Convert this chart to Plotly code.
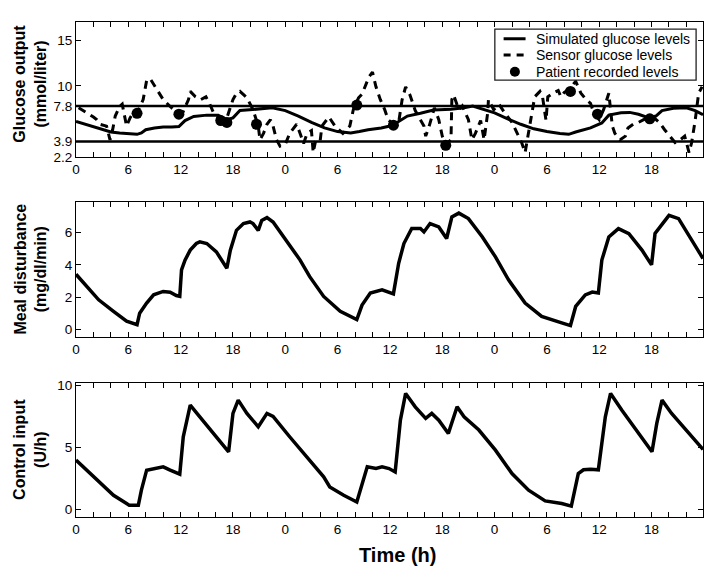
import plotly.graph_objects as go

# ---------------- data ----------------
x_tickvals = [0, 6, 12, 18, 24, 30, 36, 42, 48, 54, 60, 66]
x_ticktext = ["0", "6", "12", "18", "0", "6", "12", "18", "0", "6", "12", "18"]
glucose_ticks = [2.2, 3.9, 7.8, 10, 15]
glucose_limits = [3.9, 7.8]
legend_labels = ["Simulated glucose levels", "Sensor glucose levels", "Patient recorded levels"]

sim_t = [0, 1, 2, 3, 4, 5, 6, 7, 7.5, 8, 9, 10, 11, 11.8, 12.5, 13.5, 15, 16.3, 17.3, 18, 18.8, 20,
         21.5, 22.5, 24, 25.5, 27, 28.5, 30, 31.5, 32.5, 33.5, 35, 36, 37, 38, 39.5, 41, 43, 44.5,
         45.5, 46.5, 48, 49.5, 51, 52.5, 54, 55.5, 56.5, 57.3, 59, 60.3, 61.1, 62.5, 63.5, 64.5,
         65.7, 66.5, 67.2, 68.5, 70, 71, 71.9]
sim_v = [6.1, 5.8, 5.5, 5.2, 4.95, 4.85, 4.75, 4.7, 4.85, 5.2, 5.4, 5.5, 5.5, 5.55, 6.2, 6.65, 6.8,
         6.8, 6.3, 6.5, 7.3, 7.4, 7.45, 7.6, 7.3, 6.7, 6.0, 5.4, 5.0, 4.85, 5.0, 5.2, 5.4, 5.6, 6.1,
         6.7, 7.0, 7.35, 7.45, 7.6, 7.8, 7.5, 7.05, 6.4, 5.8, 5.3, 5.0, 4.8, 4.7, 4.95, 5.4, 5.95,
         6.8, 7.05, 7.1, 6.9, 6.5, 6.7, 7.3, 7.55, 7.6, 7.3, 6.85]

sensor_t = [0.3, 1.0, 2.0, 2.4, 2.75, 3.5, 3.9, 4.2, 4.5, 5.0, 5.3, 5.8, 6.2, 6.6, 7.0, 7.7, 8.1, 8.5,
            9.25, 10.0, 10.8, 11.7, 12.3, 12.9, 13.1, 13.7, 14.3, 14.9, 15.3, 15.8, 16.6, 17.3, 18.0,
            18.4, 18.8, 19.6, 20.3, 20.7, 20.9, 21.1, 21.5, 21.9, 22.3, 22.6, 23.0, 23.4, 24.0, 24.5,
            25.3, 25.7, 26.1, 26.5, 27.0, 27.2, 27.5, 28.0, 28.2, 29.0, 29.7, 30.6, 31.4, 31.8, 32.4,
            32.8, 33.6, 34.0, 34.4, 34.9, 35.4, 35.8, 36.4, 37.0, 37.4, 37.8, 38.3, 38.9, 39.5, 39.9,
            40.1, 40.5, 41.1, 41.6, 42.0, 42.4, 43.0, 43.1, 43.3, 43.9, 44.3, 45.0, 45.4, 45.8, 46.4,
            46.8, 47.2, 47.3, 47.9, 48.5, 49.2, 50.0, 50.6, 51.1, 51.5, 52.1, 52.6, 53.2, 53.5, 53.9,
            54.1, 54.7, 55.3, 55.6, 56.0, 56.5, 57.3, 57.9, 58.5, 59.0, 59.4, 60.0, 60.5, 61.1, 61.5,
            61.8, 62.4, 63.0, 63.3, 63.9, 64.5, 65.1, 65.7, 66.3, 66.9, 67.5, 68.1, 68.7, 69.3, 69.8,
            70.3, 70.6, 71.0, 71.4, 71.8]
sensor_v = [7.6, 7.2, 6.6, 6.3, 5.8, 5.6, 4.1, 5.2, 6.7, 7.75, 8.0, 5.6, 6.5, 7.1, 7.0, 8.5, 10.6,
            10.8, 9.6, 8.5, 7.75, 7.0, 7.2, 8.5, 9.4, 8.8, 8.5, 8.8, 8.1, 7.0, 6.3, 6.5, 8.5, 9.2, 9.4,
            8.7, 7.4, 6.3, 5.6, 4.1, 4.8, 5.8, 6.3, 5.6, 4.1, 3.4, 3.6, 4.8, 5.8, 4.8, 3.7, 4.8, 5.1,
            2.7, 4.1, 4.0, 5.6, 6.6, 5.6, 4.8, 5.6, 7.4, 8.7, 9.1, 11.0, 11.5, 9.9, 8.5, 7.4, 6.3, 5.8,
            6.0, 8.5, 9.9, 9.0, 7.3, 6.3, 5.6, 4.5, 5.6, 7.6, 6.3, 4.5, 3.6, 4.1, 8.5, 9.0, 7.4, 7.8,
            6.3, 4.1, 4.8, 6.2, 4.1, 7.0, 8.5, 7.4, 8.0, 7.0, 6.0, 4.8, 3.8, 2.7, 6.2, 8.8, 9.4, 8.8,
            6.2, 8.8, 9.2, 9.5, 8.8, 9.3, 9.6, 10.5, 9.2, 8.5, 8.1, 7.0, 6.3, 7.4, 9.2, 5.6, 4.8, 4.1,
            4.5, 5.4, 5.8, 6.0, 6.3, 6.6, 6.5, 6.0, 5.2, 4.5, 3.8, 4.1, 4.5, 2.7, 3.8, 6.2, 9.2, 9.9]

patient_t = [7.0, 11.8, 16.6, 17.3, 20.7, 32.2, 36.4, 42.4, 56.7, 59.8, 65.8]
patient_v = [7.0, 6.9, 6.2, 6.0, 5.8, 7.9, 5.7, 3.5, 9.4, 6.9, 6.4]

meal_t = [0, 1.2, 2.6, 4.3, 5.8, 7.0, 7.3, 8.1, 8.9, 10.0, 10.8, 11.5, 11.9, 12.1, 12.5, 13.1, 13.8,
          14.2, 15.0, 16.1, 17.3, 17.7, 18.4, 19.2, 19.95, 20.3, 20.9, 21.3, 21.9, 22.6, 23.8, 25.7,
          26.8, 28.4, 30.3, 32.2, 32.8, 33.75, 35.1, 36.2, 36.4, 37.0, 37.6, 38.5, 39.5, 39.9, 40.6,
          41.6, 42.5, 43.1, 43.9, 45.0, 46.6, 48.1, 49.6, 51.5, 53.4, 55.7, 56.7, 57.3, 58.4, 59.2,
          59.9, 60.3, 61.1, 62.2, 63.4, 64.9, 66.0, 66.4, 68.0, 69.1, 70.6, 71.9]
meal_v = [3.42, 2.65, 1.83, 1.11, 0.5, 0.28, 1.0, 1.63, 2.14, 2.35, 2.3, 2.1, 2.05, 3.69, 4.3, 4.92,
          5.33, 5.43, 5.33, 4.81, 3.79, 4.92, 6.15, 6.57, 6.67, 6.57, 6.15, 6.77, 6.94, 6.67, 5.74,
          4.3, 3.27, 2.04, 1.11, 0.6, 1.5, 2.25, 2.45, 2.28, 2.2, 4.1, 5.33, 6.26, 6.26, 6.05, 6.57,
          6.36, 5.64, 6.98, 7.22, 6.88, 5.74, 4.5, 3.07, 1.63, 0.8, 0.4, 0.23, 1.42, 2.14, 2.31, 2.25,
          4.3, 5.74, 6.26, 5.95, 4.92, 4.0, 5.95, 7.08, 6.88, 5.54, 4.4]

ctrl_t = [0, 1.2, 2.75, 4.3, 5.8, 6.1, 7.15, 7.5, 8.1, 8.9, 10.0, 10.8, 11.9, 12.3, 13.1, 14.2, 15.75,
          17.5, 18.0, 18.6, 19.6, 20.9, 21.9, 22.6, 24.5, 26.5, 28.4, 29.1, 30.7, 32.2, 32.8, 33.4,
          34.4, 35.1, 35.9, 36.6, 37.2, 37.8, 38.9, 40.1, 40.8, 41.6, 42.7, 43.7, 44.5, 46.2, 48.1,
          50.0, 51.9, 53.8, 55.7, 56.8, 57.6, 58.2, 59.0, 59.9, 60.7, 61.3, 62.6, 64.5, 66.05, 66.6,
          67.2, 68.3, 70.2, 71.9]
ctrl_v = [3.98, 3.17, 2.1, 1.15, 0.48, 0.35, 0.35, 1.56, 3.17, 3.3, 3.44, 3.17, 2.85, 5.86, 8.41,
          7.47, 6.13, 4.65, 7.74, 8.81, 7.74, 6.66, 7.74, 7.5, 5.86, 4.24, 2.63, 1.82, 1.15, 0.61,
          2.0, 3.44, 3.3, 3.44, 3.3, 3.03, 7.2, 9.35, 8.27, 7.34, 7.74, 7.2, 6.13, 8.27, 7.47, 6.4,
          4.78, 2.9, 1.56, 0.7, 0.48, 0.27, 2.9, 3.2, 3.25, 3.2, 7.47, 9.35, 8.0, 6.13, 4.65, 6.94,
          8.81, 7.74, 6.26, 4.84]

# ---------------- figure ----------------
FONT = "Liberation Sans, Arial, Helvetica, sans-serif"
SENSOR_DASH = "8px,6px"
fig = go.Figure()

fig.add_trace(go.Scatter(x=sim_t, y=sim_v, mode="lines", name=legend_labels[0],
                         line=dict(color="black", width=3), xaxis="x", yaxis="y"))
fig.add_trace(go.Scatter(x=sensor_t, y=sensor_v, mode="lines", name=legend_labels[1],
                         line=dict(color="black", width=3, dash=SENSOR_DASH), xaxis="x", yaxis="y"))
fig.add_trace(go.Scatter(x=patient_t, y=patient_v, mode="markers", name=legend_labels[2],
                         marker=dict(color="black", size=11), xaxis="x", yaxis="y"))
fig.add_trace(go.Scatter(x=meal_t, y=meal_v, mode="lines", showlegend=False,
                         line=dict(color="black", width=3.5), xaxis="x2", yaxis="y2"))
fig.add_trace(go.Scatter(x=ctrl_t, y=ctrl_v, mode="lines", showlegend=False,
                         line=dict(color="black", width=3.5), xaxis="x3", yaxis="y3"))

for lim in glucose_limits:
    fig.add_shape(type="line", xref="x domain", yref="y", x0=0, x1=1, y0=lim, y1=lim,
                  line=dict(color="black", width=2.5))

# compact legend box (drawn in the top panel's domain coordinates)
fig.add_shape(type="rect", xref="x domain", yref="y domain", x0=0.668, x1=0.989, y0=0.570, y1=0.948,
              line=dict(color="#222", width=1.3), fillcolor="white", layer="above")
rows = [0.876, 0.755, 0.632]
fig.add_shape(type="line", xref="x domain", yref="y domain", x0=0.682, x1=0.717, y0=rows[0], y1=rows[0],
              line=dict(color="black", width=3), layer="above")
fig.add_shape(type="line", xref="x domain", yref="y domain", x0=0.682, x1=0.719, y0=rows[1], y1=rows[1],
              line=dict(color="black", width=3, dash="7px,6px"), layer="above")
fig.add_shape(type="circle", xref="x domain", yref="y domain", xsizemode="pixel", ysizemode="pixel",
              xanchor=0.700, yanchor=rows[2], x0=-5, x1=5, y0=-5, y1=5,
              line=dict(color="black", width=0), fillcolor="black", layer="above")
for lbl, ry in zip(legend_labels, rows):
    fig.add_annotation(text=lbl, xref="x domain", yref="y domain", x=0.730, y=ry, showarrow=False,
                       xanchor="left", yanchor="middle", font=dict(family=FONT, size=14, color="black"))

xcommon = dict(range=[0, 71.9], tickmode="array", tickvals=x_tickvals, ticktext=x_ticktext,
               ticks="inside", ticklen=5, tickwidth=1, tickcolor="black",
               minor=dict(dtick=2, tick0=0, ticks="inside", ticklen=5, tickwidth=1, tickcolor="black"),
               showline=True, linecolor="black", linewidth=1.2, mirror="ticks",
               showgrid=False, zeroline=False,
               tickfont=dict(family=FONT, size=13.5, color="black"))
ycommon = dict(ticks="inside", ticklen=5, tickwidth=1, tickcolor="black",
               showline=True, linecolor="black", linewidth=1.2, mirror="ticks",
               showgrid=False, zeroline=False,
               tickfont=dict(family=FONT, size=13.5, color="black"))

fig.update_layout(
    width=724, height=583,
    margin=dict(l=76, r=21, t=22, b=66),
    paper_bgcolor="white", plot_bgcolor="white",
    font=dict(family=FONT, color="black"),
    showlegend=False,
    xaxis=dict(domain=[0, 1], anchor="y", **xcommon),
    xaxis2=dict(domain=[0, 1], anchor="y2", **xcommon),
    xaxis3=dict(domain=[0, 1], anchor="y3", **xcommon),
    yaxis=dict(domain=[0.727, 1.0], anchor="x", range=[2.2, 17], tickmode="array",
               tickvals=glucose_ticks, ticktext=["2.2", "3.9", "7.8", "10", "15"], **ycommon),
    yaxis2=dict(domain=[0.364, 0.636], anchor="x2", range=[-0.47, 7.9], tickmode="array",
                tickvals=[0, 2, 4, 6], **ycommon),
    yaxis3=dict(domain=[0, 0.271], anchor="x3", range=[-0.6, 10.2], tickmode="array",
                tickvals=[0, 5, 10], **ycommon),
)

ytitles = [("Glucose output<br>(mmol/liter)", (0.727 + 1.0) / 2 + 0.012),
           ("Meal disturbance<br>(mg/dl/min)", (0.364 + 0.636) / 2),
           ("Control input<br>(U/h)", 0.271 / 2)]
for txt, yc in ytitles:
    fig.add_annotation(text="<b>" + txt + "</b>", xref="paper", yref="paper", x=0, y=yc,
                       xshift=-46, textangle=-90, showarrow=False, xanchor="center", yanchor="middle",
                       font=dict(family=FONT, size=16, color="black"))

fig.add_annotation(text="<b>Time (h)</b>", xref="paper", yref="paper", x=0.512, y=-0.077,
                   showarrow=False, xanchor="center", yanchor="middle",
                   font=dict(family=FONT, size=20, color="black"))

fig.write_html("out.html", post_script="document.body.style.margin='0';",
               config={"displayModeBar": False})
